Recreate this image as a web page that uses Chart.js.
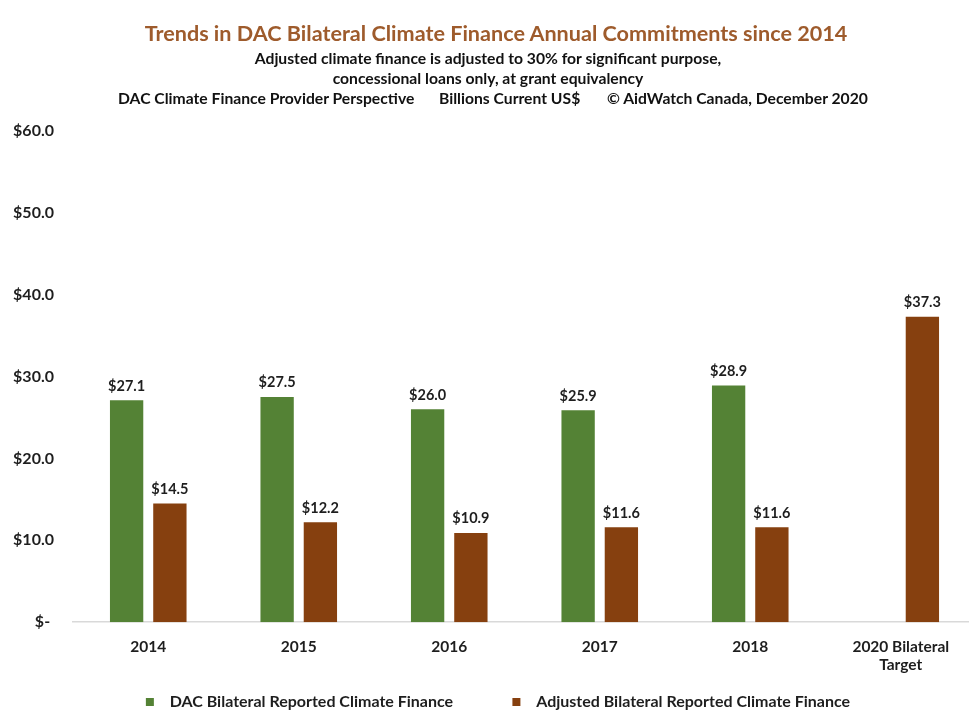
<!DOCTYPE html>
<html>
<head>
<meta charset="utf-8">
<script src="https://cdn.jsdelivr.net/npm/chart.js@4/dist/chart.umd.min.js"></script>
<style>
  html, body { margin:0; padding:0; background:#fff; overflow:hidden; width:969px; height:710px; }
  #wrap { position:relative; width:969px; height:710px; overflow:hidden; }
  canvas { position:absolute; left:0; top:0; }
  .t { position:absolute; font-family: Lato, "Open Sans", sans-serif; font-weight:bold; white-space:pre; line-height:1.2; }
  #title { left:0; width:992px; text-align:center; top:21px; font-size:21.6px; color:#9e5b2c; }
  .sub { left:0; width:976px; text-align:center; font-size:15.7px; color:#111; }
  .l3 { font-size:15.7px; color:#111; top:88.5px; }
</style>
</head>
<body>
<div id="wrap">
  <canvas id="c" width="976" height="720"></canvas>
  <div class="t" id="title">Trends in DAC Bilateral Climate Finance Annual Commitments since 2014</div>
  <div class="t sub" style="top:48.5px">Adjusted climate finance is adjusted to 30% for significant purpose,</div>
  <div class="t sub" style="top:68.5px">concessional loans only, at grant equivalency</div>
  <div class="t l3" style="left:118px">DAC Climate Finance Provider Perspective</div>
  <div class="t l3" style="left:439px">Billions Current US$</div>
  <div class="t l3" style="left:607px">© AidWatch Canada, December 2020</div>
</div>
<script>
const categories = ["2014", "2015", "2016", "2017", "2018", ["2020 Bilateral", "Target"]];
const seriesNames = ["DAC Bilateral Reported Climate Finance", "Adjusted Bilateral Reported Climate Finance"];
const reportedValues = [27.1, 27.5, 26.0, 25.9, 28.9, null];
const adjustedValues = [14.5, 12.2, 10.9, 11.6, 11.6, 37.3];
const yTicks = [0, 10, 20, 30, 40, 50, 60];

const FONT = "Lato, 'Open Sans', sans-serif";
const TEXT = "#1e1e1e";

const valueLabels = {
  id: "valueLabels",
  afterDatasetsDraw(chart) {
    const ctx = chart.ctx;
    ctx.save();
    ctx.font = "bold 14.5px " + FONT;
    ctx.fillStyle = TEXT;
    ctx.textAlign = "center";
    ctx.textBaseline = "bottom";
    chart.data.datasets.forEach((ds, di) => {
      const meta = chart.getDatasetMeta(di);
      meta.data.forEach((el, i) => {
        const v = ds.data[i];
        if (v === null || v === undefined) return;
        ctx.fillText("$" + v.toFixed(1), el.x, el.y - 7);
      });
    });
    ctx.restore();
  }
};

const legendShift = {
  id: "legendShift",
  afterLayout(chart) {
    if (chart.legend) {
      chart.legend.left += 10;
      chart.legend.right += 10;
    }
  }
};

new Chart(document.getElementById("c"), {
  type: "bar",
  data: {
    labels: categories,
    datasets: [
      { label: "  " + seriesNames[0] + "               ", data: reportedValues, backgroundColor: "#548235",
        categoryPercentage: 0.575, barPercentage: 0.77 },
      { label: "  " + seriesNames[1], data: adjustedValues, backgroundColor: "#86400f",
        categoryPercentage: 0.575, barPercentage: 0.77 }
    ]
  },
  options: {
    responsive: false,
    animation: false,
    layout: { padding: { top: 131, right: 0, bottom: 0, left: 0 } },
    plugins: {
      title: { display: false },
      tooltip: { enabled: false },
      legend: {
        position: "bottom",
        labels: {
          boxWidth: 8, boxHeight: 8, padding: 1,
          color: TEXT,
          font: { family: FONT, size: 16, weight: "bold" }
        }
      }
    },
    scales: {
      x: {
        grid: { display: false, drawTicks: false },
        border: { display: true, color: "#d9d9d9", width: 1.5 },
        ticks: { color: TEXT, padding: 15, font: { family: FONT, size: 15.5, weight: "bold" }, maxRotation: 0 },
        afterFit(scale) { scale.height = 70.8; }
      },
      y: {
        min: 0, max: 60,
        grid: { display: false, drawTicks: false },
        border: { display: false },
        afterBuildTicks(scale) { scale.ticks = yTicks.map(v => ({ value: v })); },
        ticks: {
          color: TEXT, padding: 19,
          font: { family: FONT, size: 16, weight: "bold" },
          callback: (v) => v === 0 ? "$- " : "$" + v.toFixed(1)
        },
        afterFit(scale) { scale.width = 73; }
      }
    }
  },
  plugins: [valueLabels, legendShift]
});
</script>
</body>
</html>
